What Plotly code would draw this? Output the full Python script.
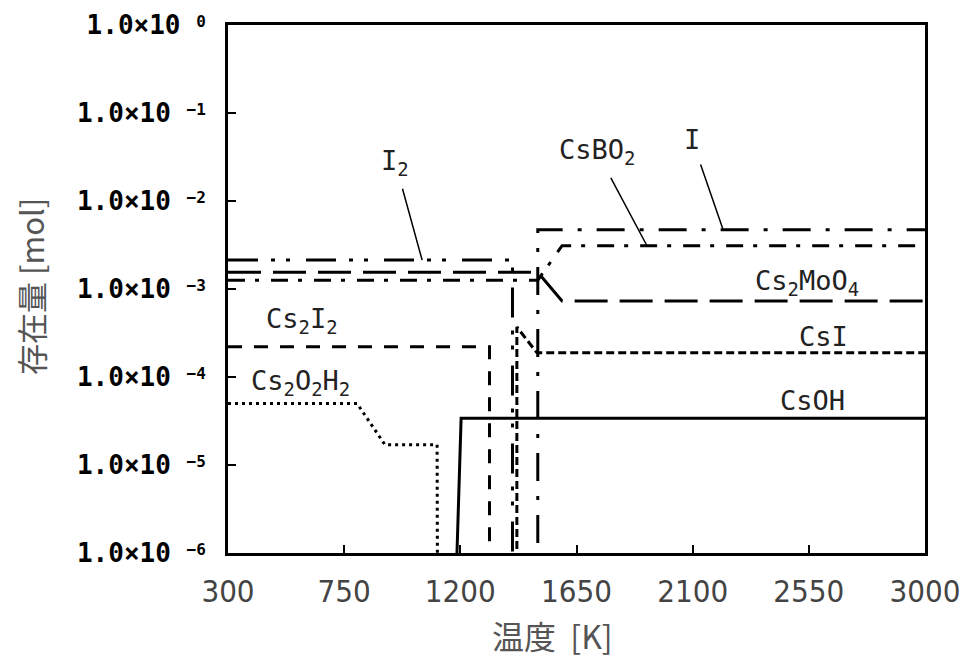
import numpy as np
import plotly.graph_objects as go

# ---- data (temperature in K, amount in mol) ----
T_I2 = [300, 1402, 1402]
V_I2 = [2.13e-3, 2.13e-3, 1e-8]

T_Cs2MoO4 = [300, 1500, 1594, 3000]
V_Cs2MoO4 = [1.55e-3, 1.55e-3, 7.3e-4, 7.3e-4]

T_CsBO2 = [300, 1500, 1594, 3000]
V_CsBO2 = [1.26e-3, 1.26e-3, 3.1e-3, 3.1e-3]

T_I = [1500, 1500, 3000]
V_I = [1e-8, 4.7e-3, 4.7e-3]

T_CsI = [1419, 1419, 1497, 3000]
V_CsI = [1e-8, 3.7e-4, 1.88e-4, 1.88e-4]

T_Cs2I2 = [300, 1313, 1313]
V_Cs2I2 = [2.2e-4, 2.2e-4, 1e-8]

T_Cs2O2H2 = [300, 800, 908, 1110, 1113]
V_Cs2O2H2 = [5.0e-5, 5.0e-5, 1.7e-5, 1.7e-5, 1e-8]

T_CsOH = [1187, 1203, 3000]
V_CsOH = [1e-6, 3.4e-5, 3.4e-5]

x_ticks = [300, 750, 1200, 1650, 2100, 2550, 3000]
y_exps = [0, -1, -2, -3, -4, -5, -6]

series = [
    ("I2", T_I2, V_I2, "30px,13px,4px,11px,4px,16px"),
    ("Cs2MoO4", T_Cs2MoO4, V_Cs2MoO4, "33px,12px"),
    ("CsBO2", T_CsBO2, V_CsBO2, "17px,10px,4px,12px"),
    ("I", T_I, V_I, "28px,15px,4px,15px"),
    ("CsI", T_CsI, V_CsI, "8px,4px"),
    ("Cs2I2", T_Cs2I2, V_Cs2I2, "14px,12px"),
    ("Cs2O2H2", T_Cs2O2H2, V_Cs2O2H2, "3px,4px"),
    ("CsOH", T_CsOH, V_CsOH, "solid"),
]

fig = go.Figure()
for name, t, v, dash in series:
    fig.add_trace(go.Scatter(x=t, y=v, mode="lines", name=name,
                             line=dict(color="black", width=3, dash=dash),
                             showlegend=False))

def sup_txt(e):
    s = "0" if e == 0 else "\u2212" + str(-e)
    return ("1.0\u00d710 <span style=\"font-size:16px;baseline-shift:7px\">"
            + s + "</span>")

# page pixel geometry (page has an 8px body margin)
OFF = 8
L, R, TOP, BOT = 228, 925, 25, 553
W, H = 968 - OFF, 657 - OFF

def px(xp):
    return (xp - L) / (R - L)

def py(yp):
    return (BOT - yp) / (BOT - TOP)

label_font = dict(family="DejaVu Sans Mono", size=27, color="#222")

annotations = []
leaders = [
    ("I<sub>2</sub>", 1052, V_I2[0], -27, -98),
    ("CsBO<sub>2</sub>", 1923, V_CsBO2[-1], -50, -94),
    ("I", 2218, V_I[-1], -31, -90),
]
for txt, xt, yv, ax, ay in leaders:
    annotations.append(dict(x=xt, y=np.log10(yv), xref="x", yref="y", text=txt,
                            showarrow=True, ax=ax, ay=ay, arrowhead=0, arrowwidth=1.5,
                            arrowcolor="black", startstandoff=8, font=label_font))

plain = [
    ("Cs<sub>2</sub>MoO<sub>4</sub>", 807, 282),
    ("CsI", 823, 337),
    ("CsOH", 812, 400),
    ("Cs<sub>2</sub>I<sub>2</sub>", 302, 320),
    ("Cs<sub>2</sub>O<sub>2</sub>H<sub>2</sub>", 300, 382),
]
for txt, xp_, yp_ in plain:
    annotations.append(dict(x=px(xp_), y=py(yp_), xref="paper", yref="paper", text=txt,
                            showarrow=False, xanchor="center", yanchor="middle", font=label_font))

annotations.append(dict(x=px(30), y=py(287), xref="paper", yref="paper", text="存在量 [mol]",
                        showarrow=False, textangle=-90, xanchor="center", yanchor="middle",
                        font=dict(family="Noto Sans CJK JP", size=31, color="#555")))
annotations.append(dict(x=px(552), y=py(635), xref="paper", yref="paper",
                        text="温度\u00a0\u00a0[K]",
                        showarrow=False, xanchor="center", yanchor="middle",
                        font=dict(family="Noto Sans CJK JP", size=32, color="#555")))

fig.update_layout(
    width=W, height=H,
    margin=dict(l=L - OFF, r=968 - R, t=TOP - OFF, b=657 - BOT),
    paper_bgcolor="white", plot_bgcolor="white",
    annotations=annotations,
)
fig.update_xaxes(range=[300, 3000], tickvals=x_ticks, ticktext=[str(v) for v in x_ticks],
                 automargin=False,
                 showgrid=False, zeroline=False, showline=True, linecolor="black", linewidth=3,
                 mirror=True, ticks="inside", ticklen=8, tickwidth=2, tickcolor="black",
                 ticklabelstandoff=9, ticklabeloverflow="allow",
                 tickfont=dict(family="DejaVu Sans Condensed, Noto Sans", size=31, color="#444"))
fig.update_yaxes(type="log", range=[-6, 0], tickvals=[10.0 ** e for e in y_exps],
                 ticktext=[sup_txt(e) for e in y_exps],
                 automargin=False,
                 showgrid=False, zeroline=False, showline=True, linecolor="black", linewidth=3,
                 mirror=True, ticks="inside", ticklen=8, tickwidth=2, tickcolor="black",
                 ticklabelstandoff=14, ticklabeloverflow="allow",
                 tickfont=dict(family="DejaVu Sans Mono", size=26, color="black", weight="bold"))

fig.write_html("out.html")
